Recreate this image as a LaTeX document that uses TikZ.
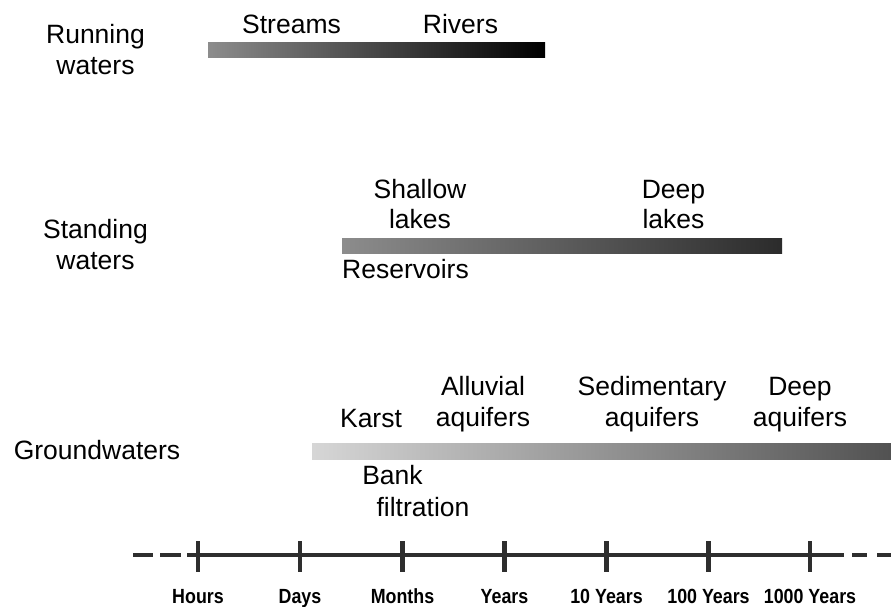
\documentclass[tikz,border=0pt]{standalone}
\usepackage{fontspec}
\setmainfont{Liberation Sans}
\newfontfamily\axisfont[FakeStretch=0.87]{Liberation Sans}
\begin{document}
\begin{tikzpicture}[x=1pt,y=-1pt,
  lbl/.style={font=\fontsize{26.5}{30.5}\selectfont, inner sep=0pt, align=center, anchor=base},
  tlbl/.style={font=\axisfont\fontsize{20.5}{22}\selectfont\bfseries, inner sep=0pt, anchor=base},
  axisline/.style={line width=4.5pt, draw=black!82},
  tickmark/.style={line width=4.5pt, draw=black!82},
]
\useasboundingbox (0,0) rectangle (891,606);

% gradient bars
\shade[left color=black!45, right color=black] (208,42) rectangle (545,57);
\shade[left color=black!45, right color=black!83] (342,238) rectangle (782,253);
\shade[left color=black!16, right color=black!68] (312,443) rectangle (891,459);

% categories (base anchor sits on the last line)
\node[lbl] (running) at (95.5,74) {Running\\waters};
\node[lbl] (standing) at (95.5,269) {Standing\\waters};
\node[lbl] (ground) at (97,459) {Groundwaters};

% running waters
\node[lbl] (streams) at (291.5,33) {Streams};
\node[lbl] (rivers) at (460.5,33) {Rivers};

% standing waters
\node[lbl] (shallow) at (420,228.5) {Shallow\\lakes};
\node[lbl] (deeplakes) at (673.5,228.5) {Deep\\lakes};
\node[lbl] (reservoirs) at (405.5,278) {Reservoirs};

% groundwaters
\node[lbl] (karst) at (371,427) {Karst};
\node[lbl] (alluvial) at (483,426) {Alluvial\\aquifers};
\node[lbl] (sedim) at (652,426) {Sedimentary\\aquifers};
\node[lbl] (deepaq) at (800,426) {Deep\\aquifers};
\node[lbl] (bank) at (392.5,484) {Bank};
\node[lbl] (filtr) at (423,516) {filtration};

% time axis
\coordinate (axL) at (187,555);
\coordinate (axR) at (844,555);
\coordinate (dL1a) at (133,555); \coordinate (dL1b) at (153,555);
\coordinate (dL2a) at (160,555); \coordinate (dL2b) at (181,555);
\coordinate (dR1a) at (852,555); \coordinate (dR1b) at (867,555);
\coordinate (dR2a) at (877,555); \coordinate (dR2b) at (891,555);
\draw[axisline] (axL) -- (axR);
\draw[axisline] (dL1a) -- (dL1b);
\draw[axisline] (dL2a) -- (dL2b);
\draw[axisline] (dR1a) -- (dR1b);
\draw[axisline] (dR2a) -- (dR2b);

\foreach \x/\name/\txt in {198/hours/Hours, 300/days/Days, 402.5/months/Months,
    504.5/years/Years, 606.5/tenyears/10 Years, 708.5/hundredyears/100 Years,
    810/thousandyears/1000 Years}{
  \coordinate (tk-\name-top) at (\x,541);
  \coordinate (tk-\name-bot) at (\x,572);
  \draw[tickmark] (tk-\name-top) -- (tk-\name-bot);
  \node[tlbl] (\name) at (\x,603) {\txt};
}
\end{tikzpicture}
\end{document}
